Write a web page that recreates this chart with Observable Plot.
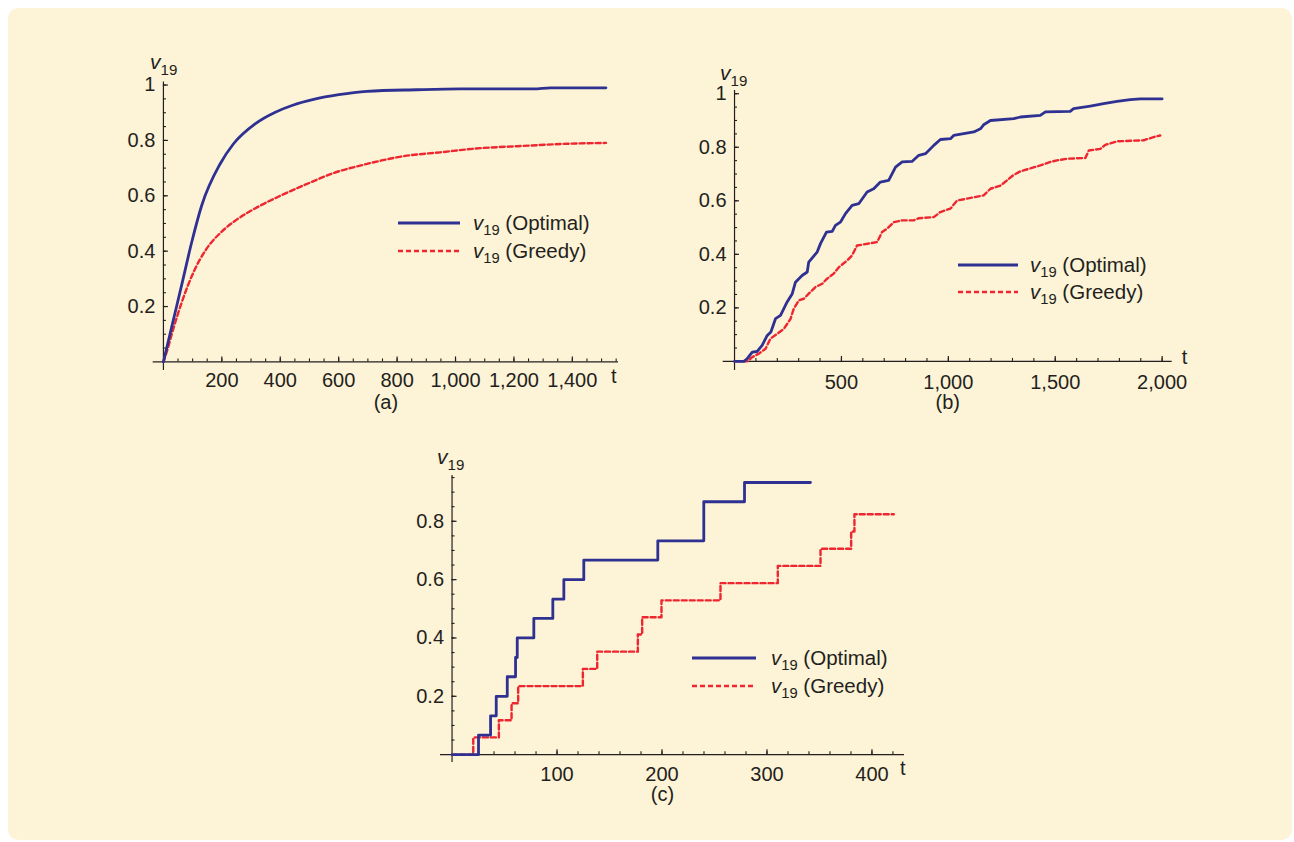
<!DOCTYPE html>
<html><head><meta charset="utf-8">
<script src="https://cdn.jsdelivr.net/npm/d3@7"></script>
<script src="https://cdn.jsdelivr.net/npm/@observablehq/plot@0.6"></script>
<style>
body{margin:0;background:#fff;width:1294px;height:842px;overflow:hidden;font-family:"Liberation Sans",Arial,sans-serif}
#bg{position:absolute;left:8px;top:8px;width:1284px;height:832px;background:#fdf3d6;border-radius:10px}
.panel{position:absolute}
#overlay{position:absolute;left:0;top:0}
</style></head><body>
<div id="bg"></div>
<div id="pa" class="panel" style="left:100px;top:30px"></div>
<div id="pb" class="panel" style="left:680px;top:30px"></div>
<div id="pc" class="panel" style="left:380px;top:430px"></div>
<svg id="overlay" width="1294" height="842"></svg>
<script>
// ---------- data ----------
// Panel (a)
const aOptT = [0, 28, 63, 97, 131, 194, 240, 314, 383, 445, 514, 600, 697, 868, 1017, 1268, 1325, 1515];
const aOptV = [0, 0.125, 0.28, 0.433, 0.565, 0.715, 0.788, 0.860, 0.902, 0.928, 0.948, 0.965, 0.977, 0.983, 0.986, 0.986, 0.990, 0.990];
const aGrT = [0, 11, 34, 63, 103, 148, 200, 251, 320, 400, 503, 582, 685, 822, 948, 1085, 1211, 1383, 1515];
const aGrV = [0, 0.035, 0.12, 0.216, 0.324, 0.409, 0.471, 0.514, 0.558, 0.600, 0.648, 0.682, 0.712, 0.743, 0.757, 0.772, 0.779, 0.788, 0.791];
const aXTicks = [200, 400, 600, 800, 1000, 1200, 1400];
const aYTicks = [0.2, 0.4, 0.6, 0.8, 1];

// Panel (b)
const bOptT = [0, 44, 59, 83, 106, 129, 153, 170, 192, 215, 246, 270, 285, 316, 340, 347, 386, 402, 430, 457, 472, 495, 519, 550, 581, 620, 651, 682, 721, 753, 784, 830, 862, 893, 932, 963, 1010, 1025, 1119, 1150, 1165, 1197, 1306, 1337, 1430, 1454, 1570, 1586, 1664, 1726, 1789, 1851, 1898, 2000];
const bOptV = [0, 0, 0.01, 0.035, 0.037, 0.06, 0.097, 0.11, 0.16, 0.172, 0.222, 0.253, 0.296, 0.321, 0.334, 0.371, 0.408, 0.44, 0.483, 0.486, 0.508, 0.52, 0.552, 0.583, 0.589, 0.633, 0.645, 0.67, 0.676, 0.726, 0.745, 0.747, 0.77, 0.776, 0.807, 0.829, 0.832, 0.844, 0.857, 0.869, 0.884, 0.9, 0.907, 0.913, 0.919, 0.932, 0.934, 0.944, 0.954, 0.963, 0.971, 0.978, 0.981, 0.981];
const bGrT = [0, 59, 83, 114, 145, 168, 199, 231, 262, 277, 301, 324, 347, 379, 410, 433, 464, 488, 527, 550, 573, 597, 667, 690, 714, 745, 784, 838, 862, 932, 963, 1010, 1041, 1087, 1165, 1197, 1244, 1274, 1306, 1337, 1430, 1477, 1508, 1555, 1641, 1657, 1711, 1734, 1789, 1913, 1960, 1991];
const bGrV = [0, 0, 0.016, 0.029, 0.047, 0.085, 0.103, 0.122, 0.159, 0.197, 0.228, 0.234, 0.253, 0.278, 0.29, 0.309, 0.328, 0.352, 0.377, 0.396, 0.433, 0.436, 0.446, 0.483, 0.496, 0.52, 0.527, 0.527, 0.535, 0.539, 0.558, 0.571, 0.601, 0.608, 0.62, 0.645, 0.657, 0.676, 0.697, 0.71, 0.732, 0.745, 0.751, 0.757, 0.76, 0.788, 0.794, 0.809, 0.822, 0.826, 0.838, 0.844];
const bXTicks = [500, 1000, 1500, 2000];
const bYTicks = [0.2, 0.4, 0.6, 0.8, 1];

// Panel (c)
const cOptT = [0, 25.2, 36.7, 42.1, 52.6, 60.5, 62.1, 77.9, 96, 106.5, 125.5, 196, 239.8, 278.6, 341.4];
const cOptV = [0, 0.067, 0.133, 0.2, 0.267, 0.333, 0.4, 0.467, 0.533, 0.6, 0.667, 0.733, 0.867, 0.933, 0.933];
const cGrT = [0, 20.2, 44.6, 56.7, 63, 124.6, 138.3, 177, 181.1, 199.5, 255.7, 310.3, 351, 380.2, 383.3, 420.8];
const cGrV = [0, 0.059, 0.118, 0.176, 0.235, 0.294, 0.353, 0.412, 0.471, 0.529, 0.588, 0.647, 0.706, 0.765, 0.824, 0.824];
const cXTicks = [100, 200, 300, 400];
const cYTicks = [0.2, 0.4, 0.6, 0.8];

const seriesNames = ["Optimal", "Greedy"];

// ---------- style ----------
const INK = "#231f20", BLUE = "#2e3192", RED = "#ee2630";
const FONT = "Liberation Sans, Arial, Helvetica, sans-serif";
const BLUE_W = 2.8, RED_W = 2.4, DASH = "5,3";

function panel(o) {
  const opt = o.optT.map((t, i) => ({t, v: o.optV[i]}));
  const gr = o.grT.map((t, i) => ({t, v: o.grV[i]}));
  return Plot.plot({
    width: o.width, height: o.height,
    marginLeft: o.ml, marginRight: o.mr, marginTop: o.mt, marginBottom: o.mb,
    x: {domain: o.xDomain, axis: null},
    y: {domain: o.yDomain, axis: null},
    style: {background: "transparent", overflow: "visible", fontFamily: FONT, color: INK},
    marks: [
      Plot.ruleY([0], {stroke: INK, strokeWidth: 1.2}),
      Plot.ruleX([0], {stroke: INK, strokeWidth: 1.2}),
      Plot.ruleX(o.xMinor, {x: d => d, y1: 0, y2: 0, insetBottom: 3, stroke: INK, strokeWidth: 1.1}),
      Plot.ruleX(o.xTicks, {x: d => d, y1: 0, y2: 0, insetBottom: 5, stroke: INK, strokeWidth: 1.2}),
      Plot.ruleY(o.yMinor, {y: d => d, x1: 0, x2: 0, insetLeft: 3, stroke: INK, strokeWidth: 1.1}),
      Plot.ruleY(o.yTicks, {y: d => d, x1: 0, x2: 0, insetLeft: 5, stroke: INK, strokeWidth: 1.2}),
      Plot.line(gr, {x: "t", y: "v", stroke: RED, strokeWidth: RED_W, strokeDasharray: DASH, curve: o.curve}),
      Plot.line(opt, {x: "t", y: "v", stroke: BLUE, strokeWidth: BLUE_W, curve: o.curve}),
      Plot.text(o.xTicks, {x: d => d, y: 0, dy: o.xLabDy, text: d => d3.format(",")(d), fontSize: 20, fill: INK}),
      Plot.text(o.yTicks, {x: 0, y: d => d, dx: -8, textAnchor: "end", text: d => String(d), fontSize: 20, fill: INK}),
      Plot.text(["t"], {frameAnchor: "bottom-right", dx: o.tDx, dy: o.tDy, text: d => d, fontSize: 20, fill: INK}),
      Plot.text([o.caption], {frameAnchor: "bottom", dx: o.capDx, dy: 38, text: d => d, fontSize: 20, fill: INK})
    ]
  });
}

document.getElementById("pa").append(panel({
  width: 560, height: 400, ml: 52.7, mr: 42, mt: 51.5, mb: 60,
  xDomain: [-35, 1558], yDomain: [-0.031, 1.011],
  optT: aOptT, optV: aOptV, grT: aGrT, grV: aGrV, curve: "monotone-x",
  xTicks: aXTicks, xMinor: d3.range(50, 1551, 50),
  yTicks: aYTicks, yMinor: d3.range(0.05, 1.001, 0.05),
  xLabDy: 19, tDx: -2, tDy: 12, caption: "(a)", capDx: 0
}));

document.getElementById("pb").append(panel({
  width: 560, height: 400, ml: 42.7, mr: 68.3, mt: 60, mb: 60,
  xDomain: [-53, 2047], yDomain: [-0.034, 1.012],
  optT: bOptT, optV: bOptV, grT: bGrT, grV: bGrV, curve: "linear",
  xTicks: bXTicks, xMinor: d3.range(100, 2001, 100),
  yTicks: bYTicks, yMinor: d3.range(0.05, 1.001, 0.05),
  xLabDy: 21, tDx: 15, tDy: -7, caption: "(b)", capDx: 0
}));

document.getElementById("pc").append(panel({
  width: 580, height: 400, ml: 60, mr: 56, mt: 45, mb: 68,
  xDomain: [-11, 431], yDomain: [-0.027, 0.957],
  optT: cOptT, optV: cOptV, grT: cGrT, grV: cGrV, curve: "step-after",
  xTicks: cXTicks, xMinor: d3.range(20, 421, 20),
  yTicks: cYTicks, yMinor: d3.range(0.05, 0.951, 0.05),
  xLabDy: 20, tDx: 1, tDy: 12, caption: "(c)", capDx: -10
}));

// ---------- axis labels and legends (overlay) ----------
const svg = d3.select("#overlay").style("font-family", FONT);

function vLabel(x, y, suffix, size) {
  const t = svg.append("text").attr("x", x).attr("y", y).attr("font-size", size).attr("fill", INK).style("white-space", "pre");
  t.append("tspan").attr("font-style", "italic").text("v");
  t.append("tspan").attr("font-size", size * 0.72).attr("dy", 5.5).text("19");
  if (suffix) t.append("tspan").attr("dy", -5.5).text(" (" + suffix + ")");
  return t;
}

vLabel(150, 69, null, 21);
vLabel(720, 80, null, 21);
vLabel(437, 464, null, 21);

function legend(x1, x2, xt, y0, y1) {
  const rows = [
    {y: y0, name: seriesNames[0], color: BLUE, dash: null, w: BLUE_W},
    {y: y1, name: seriesNames[1], color: RED, dash: DASH, w: RED_W}
  ];
  rows.forEach(r => {
    svg.append("line").attr("x1", x1).attr("x2", x2).attr("y1", r.y).attr("y2", r.y)
      .attr("stroke", r.color).attr("stroke-width", r.w).attr("stroke-dasharray", r.dash);
    vLabel(xt, r.y + 6.8, r.name, 20.5);
  });
}

legend(398, 460, 473, 223, 251);
legend(958, 1018, 1030, 265, 292);
legend(692, 756, 771, 658, 686);
</script>
</body></html>
